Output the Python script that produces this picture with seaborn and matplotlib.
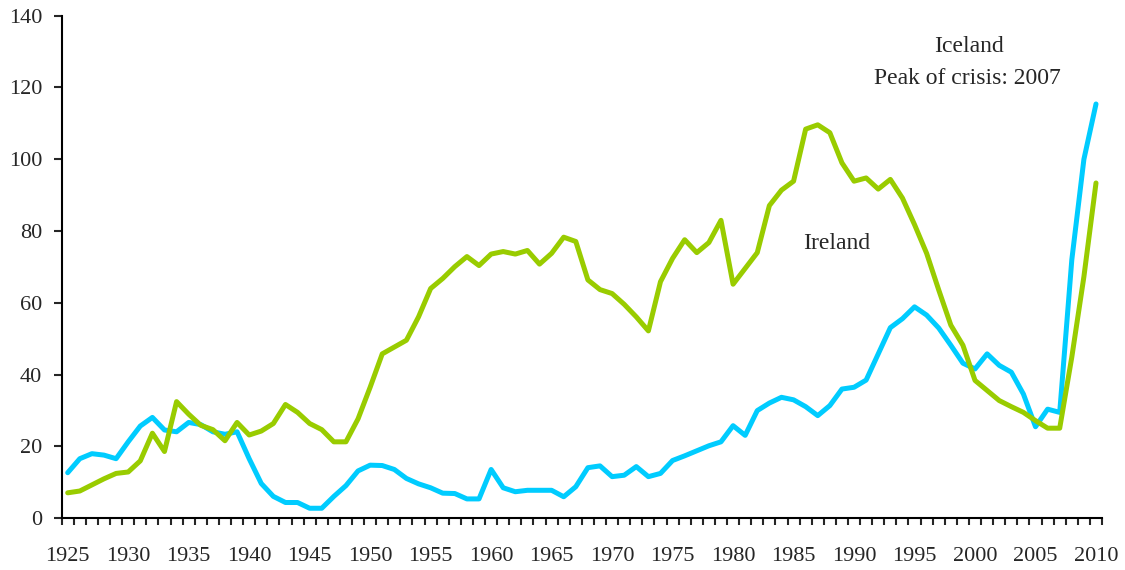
import numpy as np
import pandas as pd
import matplotlib
matplotlib.use("Agg")
import matplotlib.pyplot as plt
from matplotlib.ticker import FixedLocator
import seaborn as sns

# Data (one value per year, 1925-2010)
years = list(range(1925, 2011))

iceland = [12.7, 16.6, 18.0, 17.6, 16.6, 21.3, 25.7, 28.1, 24.6, 24.1,
           26.7, 26.1, 24.1, 23.4, 24.1, 16.6, 9.7, 6.1, 4.4, 4.4,
           2.8, 2.8, 6.1, 9.1, 13.2, 14.8, 14.7, 13.6, 11.1, 9.6,
           8.5, 7.0, 6.9, 5.4, 5.4, 13.6, 8.5, 7.4, 7.8, 7.8,
           7.8, 6.0, 8.8, 14.1, 14.6, 11.6, 12.0, 14.4, 11.6, 12.5,
           16.1, 17.4, 18.8, 20.2, 21.3, 25.8, 23.1, 30.0, 32.1, 33.7,
           33.0, 31.1, 28.6, 31.4, 36.0, 36.5, 38.5, 45.8, 53.1, 55.6,
           58.9, 56.6, 53.0, 48.2, 43.2, 41.6, 45.8, 42.6, 40.7, 34.6,
           25.5, 30.4, 29.5, 72.0, 100.0, 115.4]

ireland = [7.1, 7.6, 9.3, 11.0, 12.5, 12.9, 16.0, 23.7, 18.6, 32.5,
           29.0, 25.9, 24.7, 21.6, 26.7, 23.2, 24.3, 26.4, 31.7, 29.5,
           26.4, 24.7, 21.3, 21.3, 27.7, 36.5, 45.8, 47.7, 49.6, 56.1,
           64.0, 66.8, 70.1, 72.9, 70.4, 73.6, 74.3, 73.6, 74.6, 70.8,
           73.8, 78.3, 77.1, 66.4, 63.7, 62.6, 59.6, 56.1, 52.2, 65.9,
           72.4, 77.6, 74.0, 76.8, 83.0, 65.2, 69.6, 74.0, 87.1, 91.4,
           93.9, 108.4, 109.6, 107.4, 99.0, 93.9, 94.8, 91.7, 94.4, 89.2,
           81.8, 73.8, 63.6, 53.8, 48.2, 38.4, 35.6, 32.8, 31.1, 29.5,
           27.2, 25.1, 25.1, 44.9, 67.3, 93.4]

x_labels = list(range(1925, 2011, 5))
y_ticks = list(range(0, 141, 20))

df = pd.DataFrame({"year": years, "Iceland": iceland, "Ireland": ireland})

sns.set_style("ticks")
plt.rcParams["font.family"] = ["Liberation Serif", "DejaVu Serif"]

fig = plt.figure(figsize=(11.25, 5.7), dpi=100)
ax = fig.add_axes([0.0548, 0.0907, 0.9248, 0.8818])

sns.lineplot(data=df, x="year", y="Iceland", color="#00CCFF", linewidth=3.6, ax=ax)
sns.lineplot(data=df, x="year", y="Ireland", color="#99CC00", linewidth=3.6, ax=ax)

ax.set_xlim(1924.5, 2010.5)
ax.set_ylim(0, 140)
ax.set_xlabel("")
ax.set_ylabel("")

# Category-style x axis: labels between tick marks
ax.set_xticks(x_labels)
ax.set_xticklabels([str(y) for y in x_labels])
ax.xaxis.set_minor_locator(FixedLocator(np.arange(1924.5, 2011, 1)))
ax.tick_params(axis="x", which="major", length=0, pad=21, labelsize=16)
ax.tick_params(axis="x", which="minor", length=5, width=1.5, direction="out")

ax.set_yticks(y_ticks)
ax.tick_params(axis="y", which="major", length=6, width=1.5, pad=8, labelsize=16)

for side in ["top", "right"]:
    ax.spines[side].set_visible(False)
for side in ["left", "bottom"]:
    ax.spines[side].set_linewidth(1.5)
    ax.spines[side].set_color("black")

# Annotations
ax.text(1999.5, 129.8, "Iceland", ha="center", va="baseline", fontsize=17)
ax.text(1999.4, 120.9, "Peak of crisis: 2007", ha="center", va="baseline", fontsize=17)
ax.text(1988.6, 74.9, "Ireland", ha="center", va="baseline", fontsize=17)

fig.savefig("out.png", dpi=100)
